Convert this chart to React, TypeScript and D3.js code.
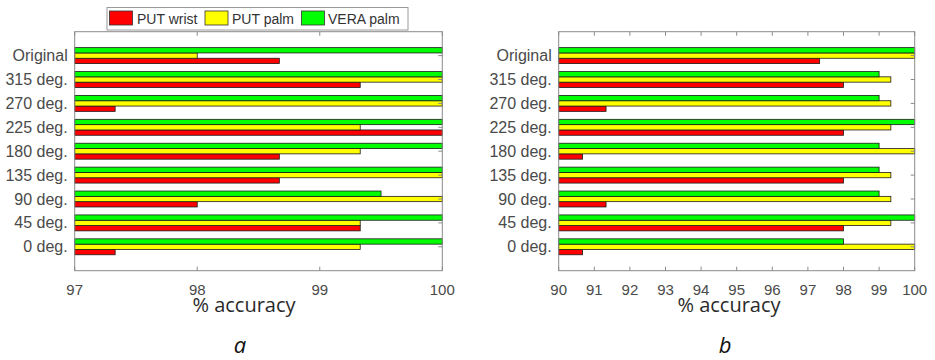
import React from "react";
import * as d3 from "d3";

// Rotation categories, bottom to top
const categories = ["0 deg.", "45 deg.", "90 deg.", "135 deg.", "180 deg.", "225 deg.", "270 deg.", "315 deg.", "Original"];

// Panel a values (% accuracy)
const putWristA = [97.33, 99.33, 98.0, 98.67, 98.67, 100, 97.33, 99.33, 98.67];
const putPalmA = [99.33, 99.33, 100, 100, 99.33, 99.33, 100, 100, 98.0];
const veraPalmA = [100, 100, 99.5, 100, 100, 100, 100, 100, 100];
const ticksA = [97, 98, 99, 100];

// Panel b values (% accuracy)
const putWristB = [90.67, 98, 91.33, 98, 90.67, 98, 91.33, 98, 97.33];
const putPalmB = [100, 99.33, 99.33, 99.33, 100, 99.33, 99.33, 99.33, 100];
const veraPalmB = [98, 100, 99, 99, 99, 100, 99, 99, 100];
const ticksB = [90, 91, 92, 93, 94, 95, 96, 97, 98, 99, 100];

const seriesNames = ["PUT wrist", "PUT palm", "VERA palm"];
const seriesColors = ["#ff0000", "#ffff00", "#00ff00"];

const axisColor = "#8a8a8a";
const labelColor = "#4a4a4a";
const tickFont = "'Liberation Sans', Arial, sans-serif";

type PanelProps = {
  left: number;
  right: number;
  top: number;
  bottom: number;
  series: number[][];
  ticks: number[];
  letter: string;
  titleX: number;
};

function Panel({ left, right, top, bottom, series, ticks, letter, titleX }: PanelProps) {
  const x = d3.scaleLinear().domain([ticks[0], ticks[ticks.length - 1]]).range([left, right]);
  const y = d3.scaleLinear().domain([0, categories.length + 1]).range([bottom, top]);
  const unit = Math.abs(y(1) - y(0));
  const groupWidth = series.length / (series.length + 1.5);
  const barH = (groupWidth / series.length) * unit;
  const x0 = x.domain()[0];

  return (
    <g>
      <rect x={left} y={top} width={right - left} height={bottom - top} fill="#fff" />
      {categories.map((c, i) =>
        series.map((vals, s) => {
          const cy = y(i + 1) - (s - (series.length - 1) / 2) * barH;
          return (
            <rect
              key={c + s}
              x={x(x0)}
              y={cy - barH / 2}
              width={x(vals[i]) - x(x0)}
              height={barH}
              fill={seriesColors[s]}
              stroke="#1a1a1a"
              strokeWidth={0.8}
            />
          );
        })
      )}
      <rect x={left} y={top} width={right - left} height={bottom - top} fill="none" stroke={axisColor} strokeWidth={1} />
      {ticks.map((t) => (
        <g key={t}>
          <line x1={x(t)} x2={x(t)} y1={bottom} y2={bottom - 4} stroke={axisColor} />
          <line x1={x(t)} x2={x(t)} y1={top} y2={top + 4} stroke={axisColor} />
          <text x={x(t)} y={294.5} textAnchor="middle" fontFamily={tickFont} fontSize={15} fill={labelColor}>
            {t}
          </text>
        </g>
      ))}
      {categories.map((c, i) => (
        <g key={c}>
          <line x1={right} x2={right - 4} y1={y(i + 1)} y2={y(i + 1)} stroke={axisColor} />
          <text
            x={left - 7}
            y={y(i + 1) + 5.5}
            textAnchor="end"
            fontFamily={tickFont}
            fontSize={16}
            fill={labelColor}
          >
            {c}
          </text>
        </g>
      ))}
      <text x={titleX} y={312} textAnchor="middle" fontFamily="'Open Sans', sans-serif" fontSize={20} fill="#2a2a2a">
        % accuracy
      </text>
      <text
        x={titleX - 4}
        y={353}
        textAnchor="middle"
        fontFamily="'Open Sans', sans-serif"
        fontStyle="italic"
        fontSize={22}
        fill="#111"
      >
        {letter}
      </text>
    </g>
  );
}

function Legend() {
  const items = [
    { x: 109.5, tx: 137 },
    { x: 205, tx: 232 },
    { x: 301.5, tx: 328 },
  ];
  return (
    <g>
      <rect x={107} y={7.5} width={301} height={22.5} fill="#fff" stroke="#9a9a9a" strokeWidth={1} />
      {items.map((it, i) => (
        <g key={seriesNames[i]}>
          <rect x={it.x} y={11} width={23} height={14} fill={seriesColors[i]} stroke="#333" strokeWidth={0.8} />
          <text x={it.tx} y={23.5} fontFamily={tickFont} fontSize={14} fill="#333">
            {seriesNames[i]}
          </text>
        </g>
      ))}
    </g>
  );
}

export default function App() {
  return (
    <svg
      width={935}
      height={360}
      style={{ position: "absolute", left: 0, top: 0, background: "#fff" }}
    >
      <rect width={935} height={360} fill="#fff" />
      <Panel
        left={74.7}
        right={442.3}
        top={31.7}
        bottom={270.7}
        series={[putWristA, putPalmA, veraPalmA]}
        ticks={ticksA}
        letter="a"
        titleX={244}
      />
      <Panel
        left={558.7}
        right={914.7}
        top={31.7}
        bottom={270.7}
        series={[putWristB, putPalmB, veraPalmB]}
        ticks={ticksB}
        letter="b"
        titleX={729}
      />
      <Legend />
    </svg>
  );
}
